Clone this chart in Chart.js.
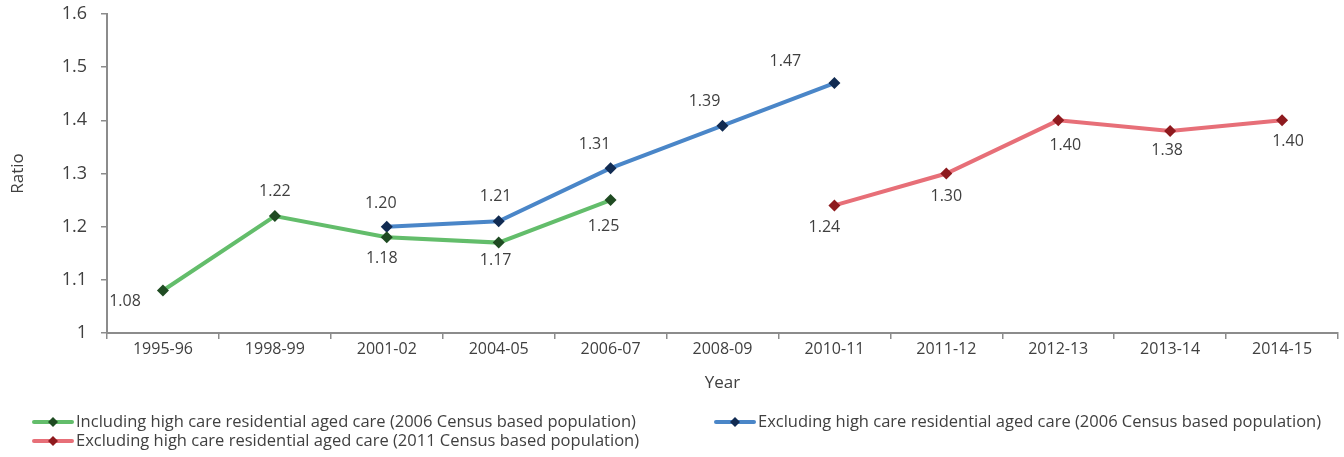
<!DOCTYPE html>
<html>
<head>
<meta charset="utf-8">
<script src="https://cdn.jsdelivr.net/npm/chart.js@4.4.1/dist/chart.umd.min.js"></script>
<style>
  html, body { margin: 0; padding: 0; background: #fff; }
  #wrap { width: 1344px; height: 457px; position: relative; }
</style>
</head>
<body>
<div id="wrap"><canvas id="chart"></canvas></div>
<script>
// ========== DATOS ==========
const years = ['1995-96', '1998-99', '2001-02', '2004-05', '2006-07', '2008-09', '2010-11', '2011-12', '2012-13', '2013-14', '2014-15'];

const incl2006 = [1.08, 1.22, 1.18, 1.17, 1.25, null, null, null, null, null, null];
const excl2006 = [null, null, 1.20, 1.21, 1.31, 1.39, 1.47, null, null, null, null];
const excl2011 = [null, null, null, null, null, null, 1.24, 1.30, 1.40, 1.38, 1.40];

const seriesNames = [
    'Including high care residential aged care (2006 Census based population)',
    'Excluding high care residential aged care (2006 Census based population)',
    'Excluding high care residential aged care (2011 Census based population)'
];

// desplazamiento de cada etiqueta respecto a su punto (px)
const labelShift = [
    [[-38, 11], [0, -25], [-5, 21], [-3, 18], [-7, 26]],
    [null, null, [-6, -23], [-3, -25], [-16, -24], [-18, -24], [-49, -22]],
    [null, null, null, null, null, null, [-10, 22], [0, 23], [7, 25], [-3, 19], [6, 21]]
];

const FONT = '"Open Sans", "Noto Sans", sans-serif';
const TXT = '#404040';
const AXIS = '#8c8c8c';

const colors = [
    { line: '#63bd6b', mark: '#1f4b22' },
    { line: '#4a86c8', mark: '#112b52' },
    { line: '#e76f78', mark: '#8e1a1e' }
];

// ========== PLUGINS ==========
const valueLabels = {
    id: 'valueLabels',
    afterDatasetsDraw(chart) {
        const ctx = chart.ctx;
        ctx.save();
        ctx.font = '16px ' + FONT;
        ctx.fillStyle = TXT;
        ctx.textAlign = 'center';
        ctx.textBaseline = 'middle';
        chart.data.datasets.forEach((ds, i) => {
            const meta = chart.getDatasetMeta(i);
            ds.data.forEach((v, j) => {
                if (v === null) return;
                const p = meta.data[j];
                const s = labelShift[i][j] || [0, -22];
                ctx.fillText(v.toFixed(2), p.x + s[0], p.y + s[1]);
            });
        });
        ctx.restore();
    }
};

function drawDiamond(ctx, x, y, r, color) {
    ctx.fillStyle = color;
    ctx.beginPath();
    ctx.moveTo(x, y - r); ctx.lineTo(x + r, y); ctx.lineTo(x, y + r); ctx.lineTo(x - r, y);
    ctx.closePath();
    ctx.fill();
}

const bottomLegend = {
    id: 'bottomLegend',
    afterDraw(chart) {
        const ctx = chart.ctx;
        const spots = [[32, 422], [714, 422], [32, 441]];
        ctx.save();
        ctx.font = '16.5px ' + FONT;
        ctx.textBaseline = 'middle';
        spots.forEach((s, i) => {
            const [x, y] = s;
            ctx.strokeStyle = colors[i].line;
            ctx.lineWidth = 4;
            ctx.lineCap = 'round';
            ctx.beginPath(); ctx.moveTo(x + 2, y); ctx.lineTo(x + 40, y); ctx.stroke();
            drawDiamond(ctx, x + 21, y, 5, colors[i].mark);
            ctx.fillStyle = TXT;
            ctx.fillText(seriesNames[i], x + 44, y);
        });
        ctx.restore();
    }
};

// ========== GRÁFICO ==========
const sets = [incl2006, excl2006, excl2011].map((d, i) => ({
    label: seriesNames[i],
    data: d,
    borderColor: colors[i].line,
    backgroundColor: colors[i].mark,
    pointBackgroundColor: colors[i].mark,
    pointBorderColor: colors[i].mark,
    borderWidth: 4,
    pointStyle: 'rectRot',
    pointRadius: 6,
    pointBorderWidth: 0,
    tension: 0,
    spanGaps: false
}));

new Chart(document.getElementById('chart').getContext('2d'), {
    type: 'line',
    data: { labels: years, datasets: sets },
    options: {
        responsive: true, maintainAspectRatio: false,
        animation: false,
        layout: { padding: { left: 8, top: 14, right: 6, bottom: 64 } },
        plugins: { legend: { display: false }, tooltip: { enabled: false } },
        scales: {
            x: {
                offset: true,
                grid: { offset: true, drawOnChartArea: false, drawTicks: true, tickLength: 6, color: AXIS, lineWidth: 1.5 },
                border: { color: AXIS, width: 2 },
                ticks: { color: TXT, font: { family: FONT, size: 16 }, padding: 1, maxRotation: 0, autoSkip: false },
                title: { display: true, text: 'Year', color: TXT, font: { family: FONT, size: 17 }, padding: { top: 4, bottom: 0 } },
                afterFit(s) { s.height = 60; s.paddingLeft = 0; s.paddingRight = 0; }
            },
            y: {
                min: 1, max: 1.6,
                ticks: { stepSize: 0.1, color: TXT, font: { family: FONT, size: 18 }, padding: 14,
                    callback: v => String(Number(v.toFixed(1))) },
                grid: { drawOnChartArea: false, drawTicks: true, tickLength: 6, color: AXIS, lineWidth: 1.5 },
                border: { color: AXIS, width: 2 },
                title: { display: true, text: 'Ratio', color: TXT, font: { family: FONT, size: 17 }, padding: { top: 0, bottom: 0 } },
                afterFit(s) { s.width = 99; s.paddingTop = 0; s.paddingBottom = 0; }
            }
        }
    },
    plugins: [valueLabels, bottomLegend]
});
</script>
</body>
</html>
